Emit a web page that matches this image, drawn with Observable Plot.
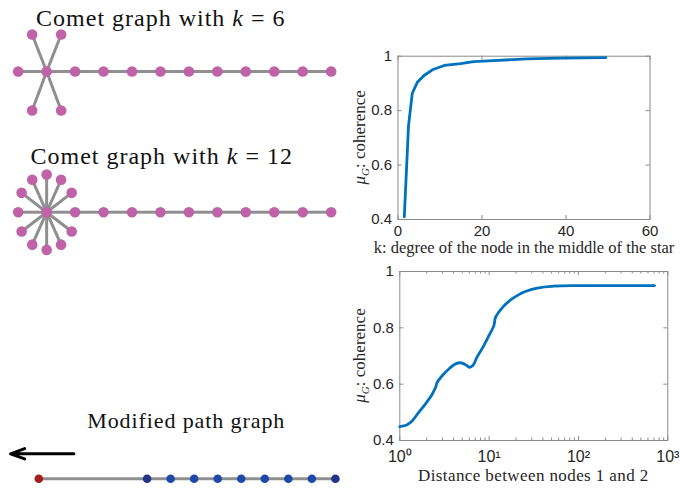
<!DOCTYPE html>
<html><head><meta charset="utf-8">
<script src="https://cdn.jsdelivr.net/npm/d3@7"></script>
<script src="https://cdn.jsdelivr.net/npm/@observablehq/plot@0.6"></script>
<style>
html,body{margin:0;padding:0;background:#fff;}
#fig{position:relative;width:680px;height:490px;overflow:hidden;background:#fff;}
#fig > svg{position:absolute;margin:0;}
</style></head><body><div id="fig"></div>
<script>
// ---------- graph drawings (layout units: 1 = spacing of tail nodes) ----------
const tailNodes = [0, 1, 2, 3, 4, 5, 6, 7, 8, 9, 10, 11];
const starCenter = 1;
const k6LeafDx = [-0.51, 0.51, -0.51, 0.51];
const k6LeafDy = [1.3, 1.3, -1.37, -1.37];
const k12LeafDx = [0, 0.506, 0.88, 0.88, 0.506, 0, -0.506, -0.88, -0.88, -0.506];
const k12LeafDy = [1.325, 1.14, 0.68, -0.68, -1.14, -1.325, -1.14, -0.68, 0.68, 1.14];
const pathNodeX = [0, 4.6, 5.6, 6.6, 7.6, 8.6, 9.6, 10.6, 11.6, 12.6];
const pathNodeRole = ["moved", "end", "mid", "mid", "mid", "mid", "mid", "mid", "mid", "end"];
const arrowSpan = [1.49, -1.2];

// ---------- top-right chart ----------
const kValues    = [1.5, 2.5, 3.4, 4.6, 6.2, 8.2, 11, 14.9, 18, 22.7, 30.6, 38.6, 49.5];
const kCoherence = [0.41, 0.744, 0.864, 0.904, 0.929, 0.95, 0.966, 0.973, 0.98, 0.984, 0.99, 0.993, 0.995];
const kTicks = [0, 20, 40, 60];
const cohTicks = [0.4, 0.6, 0.8, 1];

// ---------- bottom-right chart ----------
const distValues = [1, 1.21, 1.38, 1.63, 1.94, 2.31, 2.51, 2.62, 2.98, 3.54, 4.21, 4.79, 5.44, 6.03, 6.57, 7.36, 8.37, 9.93, 11.3, 11.8, 14.0, 17.4, 21.5, 25, 34.5, 53, 97, 229, 710];
const distCoherence = [0.449, 0.456, 0.47, 0.5, 0.53, 0.565, 0.588, 0.606, 0.63, 0.654, 0.672, 0.676, 0.669, 0.66, 0.666, 0.698, 0.727, 0.772, 0.808, 0.837, 0.871, 0.899, 0.918, 0.928, 0.941, 0.948, 0.95, 0.95, 0.95];
const distMajorTicks = [1, 10, 100, 1000];
const distMajorLabels = ["10⁰", "10¹", "10²", "10³"];
const distMinorTicks = [2, 3, 4, 5, 6, 7, 8, 9, 20, 30, 40, 50, 60, 70, 80, 90, 200, 300, 400, 500, 600, 700, 800, 900];

const fig = document.getElementById("fig");
function place(el, left, top) { el.style.left = left + "px"; el.style.top = top + "px"; fig.appendChild(el); }

const UNIT = 28.45;
const EDGE = "#8f8f8f", PINK = "#c062a8";

function comet(leafDx, leafDy, height, cy) {
  const nodes = tailNodes.map(i => ({x: i, y: 0}));
  leafDx.forEach((dx, j) => nodes.push({x: starCenter + dx, y: leafDy[j]}));
  const edges = [];
  for (let i = 0; i < tailNodes.length - 1; i++) edges.push({x1: tailNodes[i], y1: 0, x2: tailNodes[i + 1], y2: 0});
  leafDx.forEach((dx, j) => edges.push({x1: starCenter, y1: 0, x2: starCenter + dx, y2: leafDy[j]}));
  return Plot.plot({
    width: 345, height, margin: 0, axis: null,
    style: {background: "transparent", overflow: "visible"},
    x: {domain: [0, 11], range: [17.7, 17.7 + 11 * UNIT]},
    y: {domain: [-1, 1], range: [cy + UNIT, cy - UNIT]},
    marks: [
      Plot.link(edges, {x1: "x1", y1: "y1", x2: "x2", y2: "y2", stroke: EDGE, strokeWidth: 3}),
      Plot.dot(nodes, {x: "x", y: "y", r: 5.3, fill: PINK})
    ]
  });
}
place(comet(k6LeafDx, k6LeafDy, 100, 51), 0, 20);
place(comet(k12LeafDx, k12LeafDy, 100, 51.7), 0, 160);

// modified path graph
{
  const nodes = pathNodeX.map((x, i) => ({x, role: pathNodeRole[i]}));
  const p = Plot.plot({
    width: 345, height: 50, margin: 0, axis: null,
    style: {background: "transparent", overflow: "visible"},
    x: {domain: [0, 12.6], range: [38.3, 38.3 + 12.6 * 23.54]},
    y: {domain: [0, 1], range: [38.3, 13.3]},
    color: {domain: ["moved", "end", "mid"], range: ["#a51d1d", "#22358a", "#1f48ab"]},
    marks: [
      Plot.ruleY([0], {x1: pathNodeX[0], x2: pathNodeX[pathNodeX.length - 1], stroke: EDGE, strokeWidth: 3}),
      Plot.dot(nodes, {x: "x", y: 0, r: 4.3, fill: "role"}),
      Plot.arrow([{a: arrowSpan[0], b: arrowSpan[1]}], {x1: "a", x2: "b", y1: 1, y2: 1, stroke: "black", strokeWidth: 3, headLength: 7.5, headAngle: 40})
    ]
  });
  place(p, 0, 440);
}

// ---------- charts ----------
const AXC = "#8a8a8a";
const chartStyle = {background: "transparent", overflow: "visible", fontFamily: "'Liberation Sans', Arial, sans-serif", fontSize: "15px", color: "#262626"};
const LINE = "#0072BD";

// top-right
{
  const W = 340, H = 230, mL = 57.5, mR = 30.5, mT = 15.7, mB = 51;
  const fw = W - mL - mR, fh = H - mT - mB;
  const ty = 4 * 0.6 / fh, tx = 4 * 60 / fw;
  const data = kValues.map((k, i) => ({k, c: kCoherence[i]}));
  const p = Plot.plot({
    width: W, height: H, marginLeft: mL, marginRight: mR, marginTop: mT, marginBottom: mB,
    style: chartStyle,
    x: {domain: [0, 60]}, y: {domain: [0.4, 1]},
    marks: [
      Plot.frame({stroke: AXC, strokeWidth: 1}),
      Plot.ruleX(kTicks, {x: d => d, y1: 0.4, y2: 0.4 + ty, stroke: AXC}),
      Plot.ruleX(kTicks, {x: d => d, y1: 1 - ty, y2: 1, stroke: AXC}),
      Plot.ruleY(cohTicks, {y: d => d, x1: 0, x2: tx, stroke: AXC}),
      Plot.ruleY(cohTicks, {y: d => d, x1: 60 - tx, x2: 60, stroke: AXC}),
      Plot.axisX({ticks: kTicks, tickSize: 0, tickPadding: 6, label: null, tickFormat: d => String(d)}),
      Plot.axisY({ticks: cohTicks, tickSize: 0, tickPadding: 6, label: null, tickFormat: d => String(d)}),
      Plot.line(data, {x: "k", y: "c", stroke: LINE, strokeWidth: 2.8})
    ]
  });
  place(p, 340, 40);
}

// bottom-right
{
  const W = 340, H = 230, mL = 59.3, mR = 12.7, mT = 11, mB = 50;
  const fw = W - mL - mR, fh = H - mT - mB;
  const ty = 4 * 0.6 / fh, tyMinor = 2.5 * 0.6 / fh;
  const dec = fw / 3;
  const fx = Math.pow(10, 4 / dec);
  const data = distValues.map((d, i) => ({d, c: distCoherence[i]}));
  const p = Plot.plot({
    width: W, height: H, marginLeft: mL, marginRight: mR, marginTop: mT, marginBottom: mB,
    style: chartStyle,
    x: {type: "log", domain: [1, 1000]}, y: {domain: [0.4, 1]},
    marks: [
      Plot.frame({stroke: AXC, strokeWidth: 1}),
      Plot.ruleX(distMajorTicks, {x: d => d, y1: 0.4, y2: 0.4 + ty, stroke: AXC}),
      Plot.ruleX(distMajorTicks, {x: d => d, y1: 1 - ty, y2: 1, stroke: AXC}),
      Plot.ruleX(distMinorTicks, {x: d => d, y1: 0.4, y2: 0.4 + tyMinor, stroke: AXC}),
      Plot.ruleX(distMinorTicks, {x: d => d, y1: 1 - tyMinor, y2: 1, stroke: AXC}),
      Plot.ruleY(cohTicks, {y: d => d, x1: 1, x2: fx, stroke: AXC}),
      Plot.ruleY(cohTicks, {y: d => d, x1: 1000 / fx, x2: 1000, stroke: AXC}),
      Plot.axisX({ticks: distMajorTicks, tickSize: 0, tickPadding: 10, label: null, fontSize: 16, tickFormat: d => distMajorLabels[distMajorTicks.indexOf(d)]}),
      Plot.axisY({ticks: cohTicks, tickSize: 0, tickPadding: 6, label: null, tickFormat: d => String(d)}),
      Plot.line(data, {x: "d", y: "c", stroke: LINE, strokeWidth: 2.8, curve: "catmull-rom"})
    ]
  });
  place(p, 340, 260);
}

// ---------- text overlay (titles and axis labels) ----------
const ov = d3.select("#fig").append("svg")
  .attr("width", 680).attr("height", 490)
  .style("left", "0px").style("top", "0px").style("pointer-events", "none");
const SERIF = "'Liberation Serif', 'Times New Roman', serif";
function label(x, y, parts, {size = 17, ls = 0, rotate = 0, fill = "#111"} = {}) {
  const t = ov.append("text")
    .attr("transform", `translate(${x},${y}) rotate(${rotate})`)
    .attr("text-anchor", "middle")
    .attr("font-family", SERIF).attr("font-size", size)
    .attr("letter-spacing", ls).attr("fill", fill);
  parts.forEach(p => {
    const s = t.append("tspan").text(p.t);
    if (p.i) s.attr("font-style", "italic");
    if (p.dy) s.attr("dy", p.dy);
    if (p.fs) s.attr("font-size", p.fs);
  });
}
label(160.8, 25.7, [{t: "Comet graph with "}, {t: "k", i: 1}, {t: " = 6"}], {size: 24, ls: 1});
label(161.7, 164.3, [{t: "Comet graph with "}, {t: "k", i: 1}, {t: " = 12"}], {size: 24, ls: 1});
label(186.2, 428.3, [{t: "Modified path graph"}], {size: 22, ls: 0.9});
label(524, 252.5, [{t: "k: degree of the node in the middle of the star"}], {size: 16.5, ls: 0, fill: "#262626"});
label(533.3, 480.5, [{t: "Distance between nodes 1 and 2"}], {size: 17, ls: 0.4, fill: "#262626"});
const ylab = [{t: "μ", i: 1}, {t: "G", i: 1, dy: 4, fs: 11}, {t: ": coherence", dy: -4}];
label(365, 137.4, ylab, {size: 17, rotate: -90, fill: "#262626"});
label(365, 355.5, ylab, {size: 17, rotate: -90, fill: "#262626"});
</script></body></html>
